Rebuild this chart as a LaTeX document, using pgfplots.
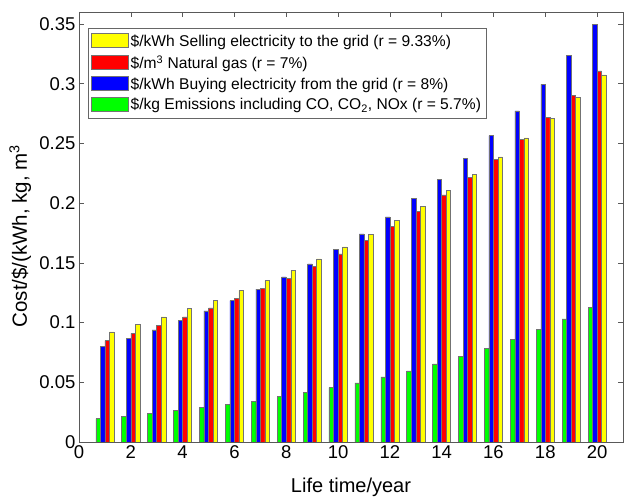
\documentclass[border=0pt]{standalone}
\usepackage{fontspec}
\setmainfont{Liberation Sans}
\usepackage{pgfplots}
\usepackage{pgfplotstable}
\pgfplotsset{compat=1.18}
\pgfplotstableread{
year green blue red yellow
1 0.0195 0.0799 0.0849 0.0921
2 0.0217 0.0866 0.0910 0.0982
3 0.0240 0.0938 0.0977 0.1047
4 0.0262 0.1016 0.1047 0.1116
5 0.0287 0.1097 0.1122 0.1188
6 0.0315 0.1183 0.1200 0.1270
7 0.0342 0.1280 0.1283 0.1350
8 0.0381 0.1383 0.1372 0.1439
9 0.0417 0.1492 0.1472 0.1533
10 0.0456 0.1611 0.1575 0.1633
11 0.0495 0.1742 0.1689 0.1739
12 0.0545 0.1884 0.1803 0.1854
13 0.0595 0.2037 0.1931 0.1973
14 0.0654 0.2198 0.2068 0.2104
15 0.0715 0.2377 0.2213 0.2243
16 0.0785 0.2566 0.2365 0.2388
17 0.0860 0.2772 0.2533 0.2547
18 0.0943 0.2995 0.2716 0.2711
19 0.1030 0.3234 0.2903 0.2886
20 0.1127 0.3496 0.3106 0.3073
}\costdata
\begin{document}
\begin{tikzpicture}
\begin{axis}[
  scale only axis, width=544pt, height=430pt,
  xmin=0, xmax=21, ymin=0, ymax=0.36,
  xtick={0,2,4,6,8,10,12,14,16,18,20},
  ytick={0,0.05,0.1,0.15,0.2,0.25,0.3,0.35},
  yticklabels={0,0.05,0.1,0.15,0.2,0.25,0.3,0.35},
  ybar, bar width=0.175,
  legend image code/.code={\draw[#1,/tikz/.cd,yshift=0pt] (0pt,-6pt) rectangle (37pt,8pt);},
  tick align=inside, xtick pos=both, ytick pos=both,
  major tick length=5pt,
  axis line style={black!65, line width=0.6pt},
  tick style={black!65, line width=0.6pt},
  /pgf/number format/assume math mode=true,
  tick label style={font=\fontsize{18.5}{20}\selectfont},
  xlabel={Life time/year},
  ylabel={Cost/\$/(kWh, kg, m\textsuperscript{3}},
  xlabel style={font=\fontsize{20}{22}\selectfont, at={(axis description cs:0.5,0)}, anchor=base, yshift=-50.7pt},
  ylabel style={font=\fontsize{20.5}{22}\selectfont, at={(axis description cs:-0.0956,0.479)}, anchor=base},
  reverse legend,
  legend cell align=left,
  legend style={at={(0.0165,0.963)}, anchor=north west, draw=black!60,
    font=\fontsize{15.6}{17}\selectfont, row sep=3.6pt, inner xsep=3pt, inner ysep=5pt},
]
\addplot[fill={rgb,1:red,0;green,1;blue,0}, draw=black!55, line width=0.5pt, bar shift=-0.2625] table[x=year,y=green] {\costdata};
\addlegendentry{\$/kg Emissions including CO, CO\textsubscript{2}, NOx (r = 5.7\%)}
\addplot[fill={rgb,1:red,0;green,0;blue,1}, draw=black!55, line width=0.5pt, bar shift=-0.0875] table[x=year,y=blue] {\costdata};
\addlegendentry{\$/kWh Buying electricity from the grid (r = 8\%)}
\addplot[fill={rgb,1:red,1;green,0;blue,0}, draw=black!55, line width=0.5pt, bar shift=0.0875] table[x=year,y=red] {\costdata};
\addlegendentry{\$/m\textsuperscript{3} Natural gas (r = 7\%)}
\addplot[fill={rgb,1:red,1;green,1;blue,0}, draw=black!55, line width=0.5pt, bar shift=0.2625] table[x=year,y=yellow] {\costdata};
\addlegendentry{\$/kWh Selling electricity to the grid (r = 9.33\%)}
\end{axis}
\pgfresetboundingbox
\path (current axis.south west) ++(-79pt,-55pt) rectangle ++(624pt,497pt);
\end{tikzpicture}
\end{document}
